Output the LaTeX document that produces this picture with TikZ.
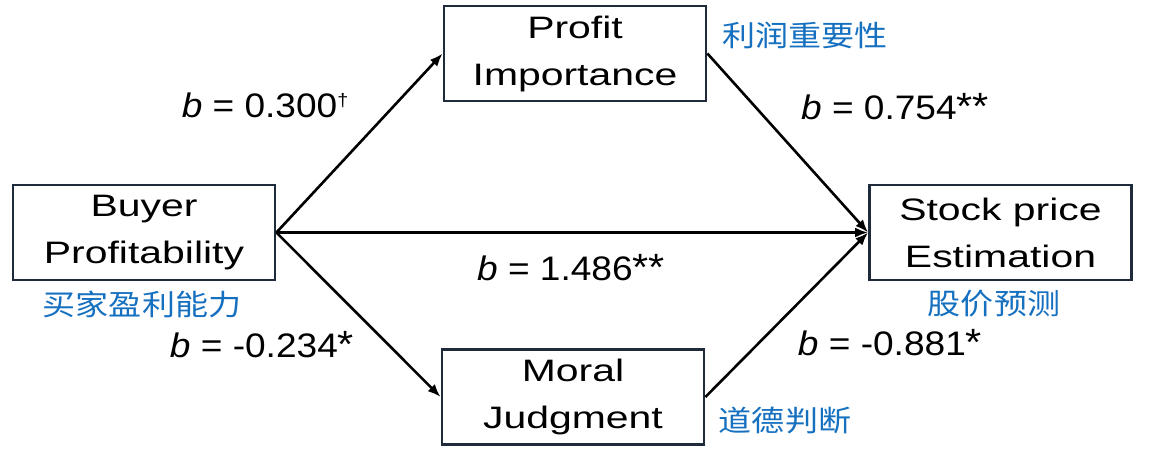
\documentclass[tikz,border=0pt]{standalone}
\usepackage{fontspec}
\setmainfont{Liberation Sans}
\newfontfamily\boxfont[FakeStretch=1.32]{Liberation Sans}
\newfontfamily\lblfont[FakeStretch=1.09]{Liberation Sans}
\newfontfamily\cjk[FakeStretch=1.14]{Noto Sans CJK SC}
\usetikzlibrary{arrows.meta}
\definecolor{boxcol}{HTML}{1F2A3A}
\definecolor{cnblue}{HTML}{1570C0}
\begin{document}
\begin{tikzpicture}[x=1pt,y=-1pt,
  box/.style={draw=boxcol,line width=2.8pt,minimum width=262pt,minimum height=95pt,align=center,inner sep=0pt,font=\boxfont\fontsize{31}{47}\selectfont},
  cn/.style={text=cnblue,font=\cjk\fontsize{29}{34}\selectfont,inner sep=0pt},
  lbl/.style={font=\lblfont\fontsize{34}{38}\selectfont,inner sep=0pt},
  star/.style={font=\lblfont\fontsize{38}{38}\selectfont},
  arr/.style={line width=2.6pt,-{Latex[length=13pt,width=10pt]}}]
\useasboundingbox (0,0) rectangle (1154,467);
\node[box] (buyer) at (144,232.5) {Buyer\\Profitability};
\node[box] (profit) at (575,53.5) {Profit\\Importance};
\node[box] (stock) at (1000.5,232.5) {Stock price\\Estimation};
\node[box] (moral) at (573,397) {Moral\\Judgment};
\node[cn] (c1) at (805,35) {利润重要性};
\node[cn] (c2) at (142,304) {买家盈利能力};
\node[cn] (c3) at (994,304) {股价预测};
\node[cn] (c4) at (785,420) {道德判断};
\draw[arr] (buyer.east) -- (profit.west);
\draw[arr] (buyer.east) -- (moral.west);
\draw[arr] (buyer.east) -- (stock.west);
\draw[arr] (profit.east) -- (stock.west);
\draw[arr] (moral.east) -- (stock.west);
\node[lbl] (l1) at (265,105) {\textit{b} = 0.300\raisebox{0.6ex}{\fontsize{18}{20}\selectfont †}};
\node[lbl] (l2) at (895,107) {\textit{b} = 0.754{\fontsize{38}{38}\selectfont **}};
\node[lbl] (l3) at (571,268) {\textit{b} = 1.486{\fontsize{38}{38}\selectfont **}};
\node[lbl] (l4) at (262,345) {\textit{b} = -0.234{\fontsize{38}{38}\selectfont *}};
\node[lbl] (l5) at (890,343) {\textit{b} = -0.881{\fontsize{38}{38}\selectfont *}};
\end{tikzpicture}
\end{document}
